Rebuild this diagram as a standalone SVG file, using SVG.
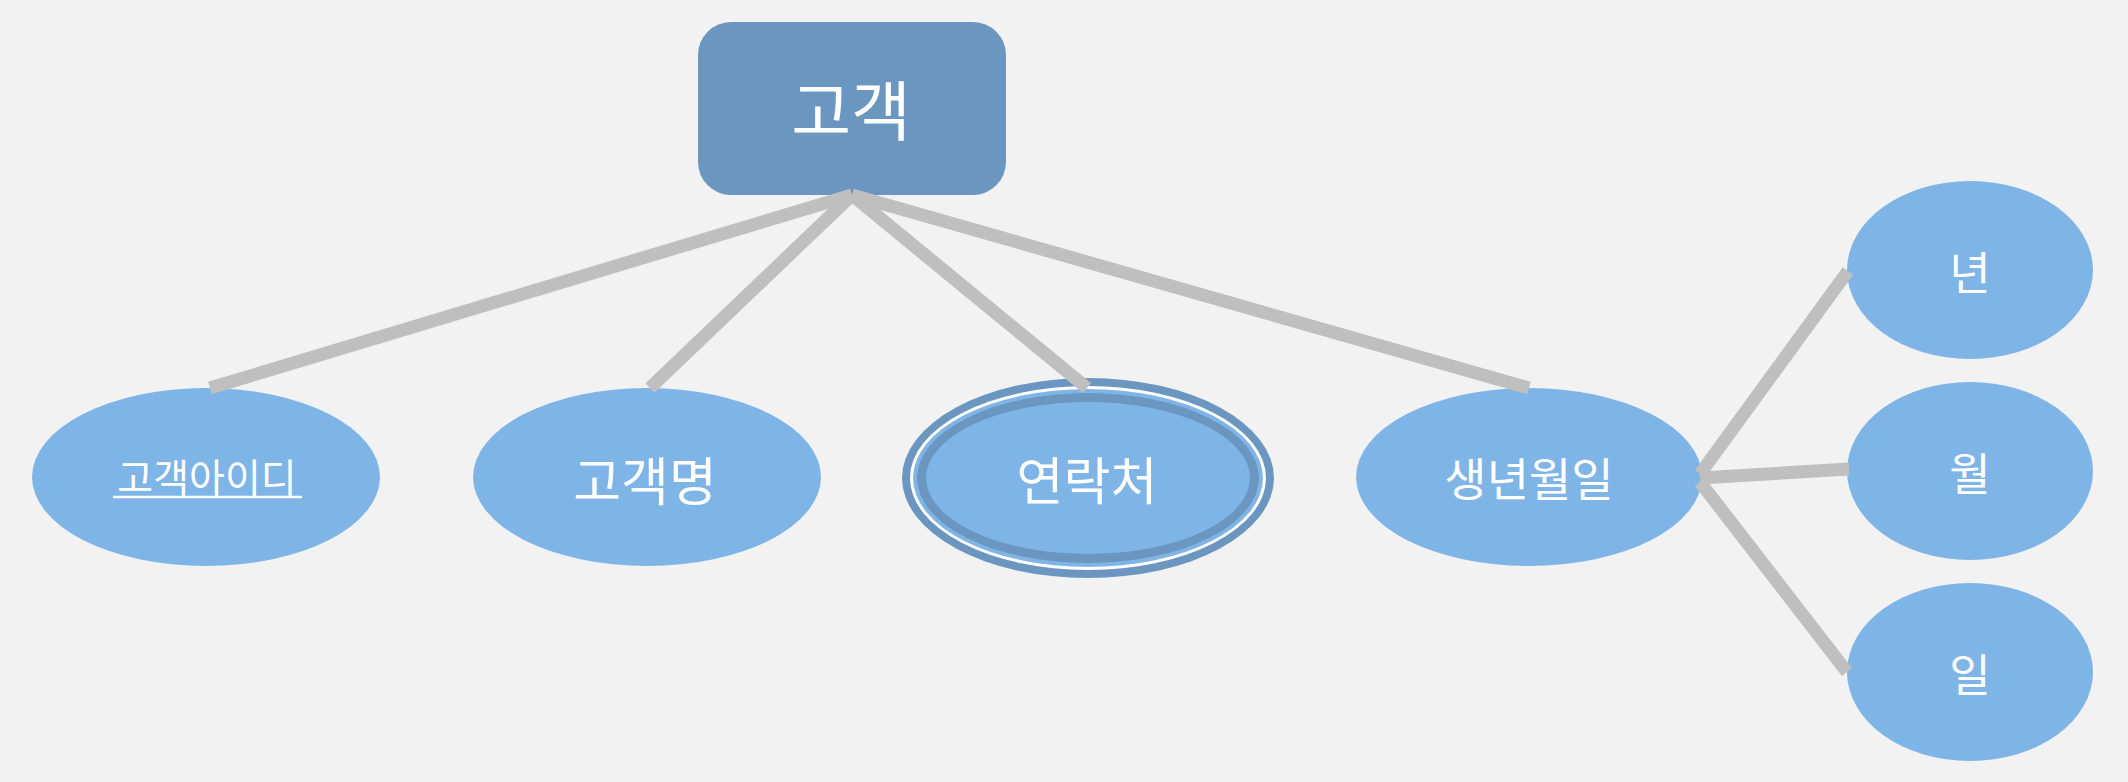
<svg xmlns="http://www.w3.org/2000/svg" width="2128" height="782" viewBox="0 0 2128 782">
<style>
.bg{fill:#f2f2f2}
.ent{fill:#6a96c0}
.att{fill:#7fb4e7}
.dark{fill:#6a96c0}
.white{fill:#ffffff}
.lbl{font-family:"Noto Sans CJK KR","Noto Sans",sans-serif;fill:#ffffff;text-anchor:middle;dominant-baseline:central}
.con line{stroke:#bfbfbf;stroke-width:13;stroke-linecap:butt}
</style>
<rect class="bg" x="0" y="0" width="2128" height="782"/>
<g id="node-customer">
<rect class="ent" x="698" y="22" width="308" height="173" rx="33" ry="33"/>
<text class="lbl" x="851" y="107" font-size="65">고객</text>
</g>
<g id="node-customer-id">
<ellipse class="att" cx="206" cy="477" rx="174" ry="89"/>
<text class="lbl" x="207" y="475" font-size="39">고객아이디</text>
<line x1="113" y1="497" x2="302" y2="497" stroke="#ffffff" stroke-width="2.5"/>
</g>
<g id="node-customer-name">
<ellipse class="att" cx="647" cy="477" rx="174" ry="89"/>
<text class="lbl" x="645" y="478" font-size="52">고객명</text>
</g>
<g id="node-contact">
<ellipse class="dark" cx="1088" cy="478" rx="186" ry="100"/>
<ellipse class="white" cx="1088" cy="478" rx="178" ry="92"/>
<ellipse class="att" cx="1088" cy="478" rx="175" ry="89"/>
<ellipse class="dark" cx="1088" cy="478" rx="171" ry="85"/>
<ellipse class="att" cx="1088" cy="478" rx="162" ry="76"/>
<text class="lbl" x="1087" y="478" font-size="51">연락처</text>
</g>
<g id="node-birthdate">
<ellipse class="att" cx="1529" cy="477" rx="173" ry="89"/>
<text class="lbl" x="1529" y="476" font-size="46">생년월일</text>
</g>
<g id="node-year">
<ellipse class="att" cx="1970" cy="270" rx="123" ry="89"/>
<text class="lbl" x="1970" y="270" font-size="45">년</text>
</g>
<g id="node-month">
<ellipse class="att" cx="1970" cy="471" rx="123" ry="89"/>
<text class="lbl" x="1970" y="471" font-size="45">월</text>
</g>
<g id="node-day">
<ellipse class="att" cx="1970" cy="672" rx="123" ry="89"/>
<text class="lbl" x="1970" y="672" font-size="45">일</text>
</g>
<g id="connectors" class="con">
<line x1="852" y1="195" x2="210" y2="388"/>
<line x1="852" y1="195" x2="650" y2="388"/>
<line x1="852" y1="195" x2="1087" y2="388"/>
<line x1="852" y1="195" x2="1529" y2="388"/>
<line x1="1700" y1="474" x2="1848" y2="271"/>
<line x1="1700" y1="478" x2="1849" y2="469"/>
<line x1="1700" y1="482" x2="1847" y2="672"/>
</g>
</svg>
